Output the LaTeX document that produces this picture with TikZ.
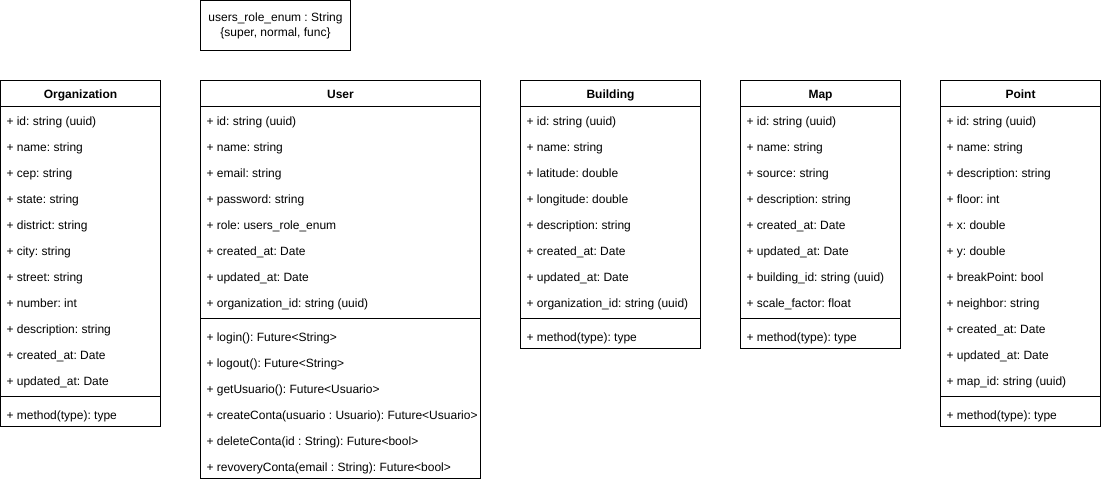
\documentclass[tikz,border=0pt]{standalone}
\usepackage{fontspec}
\setmainfont{Liberation Sans}
\frenchspacing
\begin{document}
\begin{tikzpicture}[x=1pt,y=-1pt,line width=1pt,
  ttl/.style={font=\fontsize{12}{14}\selectfont\bfseries\frenchspacing,inner sep=0pt,anchor=base},
  attr/.style={font=\fontsize{12}{14}\selectfont\frenchspacing,inner sep=0pt,anchor=base west},
  boxline/.style={draw=black,line width=1pt}]
\useasboundingbox (0,0) rectangle (1101,482);
% #1 id, #2 left, #3 width, #4 title, #5 n attrs, #6 attrs, #7 m methods, #8 methods
\newcommand\umlclassbox[8]{%
  \pgfmathsetmacro\sepy{106+26*#5+4}%
  \pgfmathsetmacro\boty{106+26*#5+8+26*#7}%
  \draw[boxline] (#2+0.5,80.5) rectangle (#2+#3+0.5,\boty+0.5);
  \draw[boxline] (#2+0.5,106.5) -- (#2+#3+0.5,106.5);
  \draw[boxline] (#2+0.5,\sepy+0.5) -- (#2+#3+0.5,\sepy+0.5);
  \node[ttl] (#1) at (#2+#3/2+0.5,98.5) {#4};
  \foreach \t [count=\i] in {#6} {\node[attr] (#1-a\i) at (#2+6,99.5+26*\i) {\t};}
  \foreach \t [count=\j] in {#8} {\node[attr] (#1-m\j) at (#2+6,106+26*#5+8+26*\j-7+0.5) {\t};}
}
% enum box
\draw[boxline] (200.5,0.5) rectangle (350.5,50.5);
\node[font=\fontsize{12}{15}\selectfont\frenchspacing,align=center,inner sep=0pt] (enum) at (275.5,25.5) {users\_role\_enum : String\\\{super, normal, func\}};

\umlclassbox{org}{0}{160}{Organization}{11}{+ id: string (uuid),+ name: string,+ cep: string,+ state: string,+ district: string,+ city: string,+ street: string,+ number: int,+ description: string,+ created\_at: Date,+ updated\_at: Date}{1}{+ method(type): type}

\umlclassbox{user}{200}{280}{User}{8}{+ id: string (uuid),+ name: string,+ email: string,+ password: string,+ role: users\_role\_enum,+ created\_at: Date,+ updated\_at: Date,+ organization\_id: string (uuid)}{6}{+ login(): Future<String>,+ logout(): Future<String>,+ getUsuario(): Future<Usuario>,+ createConta(usuario : Usuario): Future<Usuario>,+ deleteConta(id : String): Future<bool>,+ revoveryConta(email : String): Future<bool>}

\umlclassbox{bld}{520}{180}{Building}{8}{+ id: string (uuid),+ name: string,+ latitude: double,+ longitude: double,+ description: string,+ created\_at: Date,+ updated\_at: Date,+ organization\_id: string (uuid)}{1}{+ method(type): type}

\umlclassbox{map}{740}{160}{Map}{8}{+ id: string (uuid),+ name: string,+ source: string,+ description: string,+ created\_at: Date,+ updated\_at: Date,+ building\_id: string (uuid),+ scale\_factor: float}{1}{+ method(type): type}

\umlclassbox{pt}{940}{160}{Point}{11}{+ id: string (uuid),+ name: string,+ description: string,+ floor: int,+ x: double,+ y: double,+ breakPoint: bool,+ neighbor: string,+ created\_at: Date,+ updated\_at: Date,+ map\_id: string (uuid)}{1}{+ method(type): type}
\end{tikzpicture}
\end{document}
